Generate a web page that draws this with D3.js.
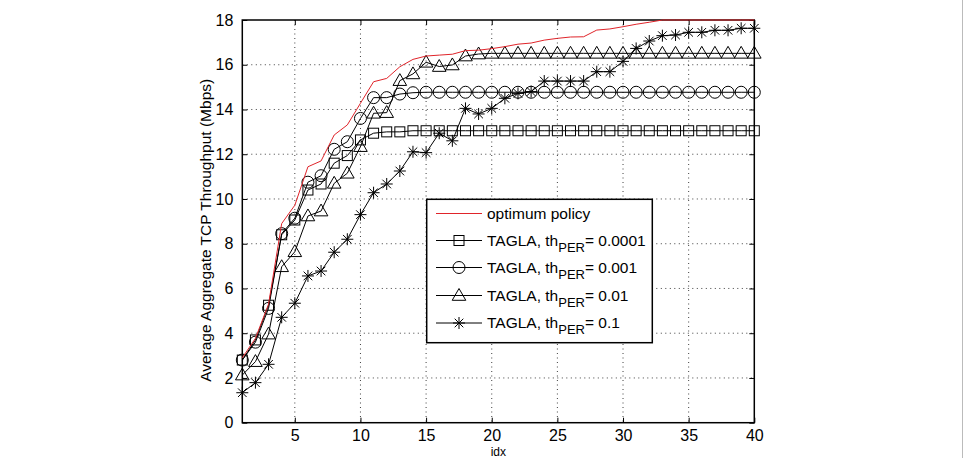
<!DOCTYPE html>
<html lang="en">
<head>
<meta charset="UTF-8">
<title>TAGLA throughput</title>
<script src="https://cdn.jsdelivr.net/npm/d3@7"></script>
<style type="text/css">
	body { margin: 0; background: #fff; }
	svg { font-family: "Liberation Sans", Arial, sans-serif; }
	.tick-label { font-size: 16px; fill: #000; }
	.label { font-size: 15.5px; fill: #000; }
	.grid line { stroke: #000; stroke-width: 1px; stroke-dasharray: 1,3.5; opacity: 0.75; }
	.series { fill: none; stroke-width: 1px; }
	.marker { fill: none; stroke: #000; stroke-width: 1px; }
	.legend text { font-size: 15.5px; fill: #000; }
</style>
</head>
<body>
<script type="text/javascript">

	var idx = [1,2,3,4,5,6,7,8,9,10,11,12,13,14,15,16,17,18,19,20,
		21,22,23,24,25,26,27,28,29,30,31,32,33,34,35,36,37,38,39,40];

	var optimum = [2.9,3.77,5.3,8.9,9.72,11.44,11.7,12.86,13.31,14.28,15.24,15.39,15.91,16.24,16.39,16.43,16.47,16.63,16.65,16.72,
		16.81,16.92,16.97,17.1,17.18,17.24,17.25,17.55,17.6,17.7,17.81,17.9,18,18,18,18,18,18,18,18];
	var per0001 = [2.8,3.7,5.25,8.4,9.06,10.4,10.67,11.6,11.94,12.64,12.94,13.0,13.0,13.05,13.05,13.05,13.05,13.05,13.05,13.05,
		13.05,13.05,13.05,13.05,13.05,13.05,13.05,13.05,13.05,13.05,13.05,13.05,13.05,13.05,13.05,13.05,13.05,13.05,13.05,13.05];
	var per001 = [2.8,3.6,5.11,8.45,9.14,10.75,11.04,12.22,12.56,13.6,14.53,14.53,14.69,14.75,14.77,14.77,14.77,14.77,14.77,14.77,
		14.77,14.77,14.77,14.77,14.77,14.77,14.77,14.77,14.77,14.77,14.77,14.77,14.77,14.77,14.77,14.77,14.77,14.77,14.77,14.77];
	var per01 = [2.13,2.73,3.96,6.97,7.64,9.24,9.46,10.7,11.15,12.34,13.83,13.86,15.29,15.59,16.11,15.92,15.99,16.39,16.48,16.51,
		16.51,16.51,16.51,16.51,16.51,16.51,16.51,16.51,16.51,16.51,16.51,16.51,16.51,16.51,16.51,16.51,16.51,16.51,16.51,16.51];
	var per1 = [1.34,1.79,2.61,4.71,5.34,6.56,6.78,7.62,8.2,9.3,10.28,10.67,11.25,12.11,12.07,12.94,12.6,14.05,13.8,14.05,
		14.5,14.72,14.8,15.27,15.27,15.27,15.27,15.69,15.69,16.15,16.73,17.06,17.3,17.33,17.45,17.45,17.54,17.54,17.63,17.63];

	var xTicks = [5,10,15,20,25,30,35,40];
	var yTicks = [0,2,4,6,8,10,12,14,16,18];

	var series = [
		{ name: 'optimum policy', values: optimum, marker: null, color: '#e0242a' },
		{ name: '0.0001', values: per0001, marker: 'square', color: '#000' },
		{ name: '0.001', values: per001, marker: 'circle', color: '#000' },
		{ name: '0.01', values: per01, marker: 'triangle', color: '#000' },
		{ name: '0.1', values: per1, marker: 'star', color: '#000' }
	];

	var W = 964, H = 458;
	var margin = {top: 20, right: 209.7, bottom: 35.3, left: 242.3};
	var width = W - margin.left - margin.right;
	var height = H - margin.top - margin.bottom;

	var root = d3.select('body').append('svg')
		.attr('width', W)
		.attr('height', H);

	// faint frame edge on the right of the figure
	root.append('line')
		.attr('x1', 962.5).attr('x2', 962.5)
		.attr('y1', 0).attr('y2', H)
		.attr('stroke', '#bbb').attr('stroke-width', 1);

	var svg = root.append('g')
		.attr('transform', 'translate(' + margin.left + ',' + margin.top + ')');

	var xScale = d3.scaleLinear().domain([1, 40]).range([0, width]);
	var yScale = d3.scaleLinear().domain([0, 18]).range([height, 0]);

	// dotted grid
	svg.append('g').attr('class', 'grid')
		.selectAll('line').data(xTicks.filter(d => d < 40)).enter().append('line')
		.attr('x1', d => xScale(d)).attr('x2', d => xScale(d))
		.attr('y1', 0).attr('y2', height);
	svg.append('g').attr('class', 'grid')
		.selectAll('line').data(yTicks.filter(d => d > 0 && d < 18)).enter().append('line')
		.attr('x1', 0).attr('x2', width)
		.attr('y1', d => yScale(d)).attr('y2', d => yScale(d));

	// axes with inward ticks on all sides
	var tl = 5;
	svg.append('g').attr('class', 'x axis')
		.attr('transform', 'translate(0,' + height + ')')
		.call(d3.axisBottom(xScale).tickValues(xTicks).tickSize(-tl).tickSizeOuter(0).tickPadding(7))
		.call(g => g.select('.domain').remove());
	svg.append('g')
		.call(d3.axisTop(xScale).tickValues(xTicks).tickSize(-tl).tickSizeOuter(0).tickFormat(''))
		.call(g => g.select('.domain').remove());
	svg.append('g').attr('class', 'y axis')
		.call(d3.axisLeft(yScale).tickValues(yTicks).tickSize(-tl).tickSizeOuter(0).tickPadding(9))
		.call(g => g.select('.domain').remove());
	svg.append('g')
		.attr('transform', 'translate(' + width + ',0)')
		.call(d3.axisRight(yScale).tickValues(yTicks).tickSize(-tl).tickSizeOuter(0).tickFormat(''))
		.call(g => g.select('.domain').remove());

	svg.selectAll('.tick line').attr('stroke', '#000');
	svg.selectAll('.tick text').attr('class', 'tick-label').attr('font-family', null).attr('font-size', null);

	svg.append('rect')
		.attr('width', width).attr('height', height)
		.attr('fill', 'none').attr('stroke', '#000').attr('stroke-width', 1.5);

	var line = d3.line()
		.x((d, i) => xScale(idx[i]))
		.y(d => yScale(d));

	function drawMarker(g, type, cx, cy) {
		if (type === 'square') {
			g.append('rect').attr('class', 'marker')
				.attr('x', cx - 5).attr('y', cy - 5).attr('width', 10).attr('height', 10);
		} else if (type === 'circle') {
			g.append('circle').attr('class', 'marker')
				.attr('cx', cx).attr('cy', cy).attr('r', 6);
		} else if (type === 'triangle') {
			g.append('path').attr('class', 'marker')
				.attr('d', 'M' + cx + ',' + (cy - 7) + 'L' + (cx + 6.8) + ',' + (cy + 4.8) + 'L' + (cx - 6.8) + ',' + (cy + 4.8) + 'Z');
		} else if (type === 'star') {
			var r = 6, d = 4.3;
			g.append('path').attr('class', 'marker')
				.attr('d', 'M' + cx + ',' + (cy - r) + 'V' + (cy + r) +
					'M' + (cx - r) + ',' + cy + 'H' + (cx + r) +
					'M' + (cx - d) + ',' + (cy - d) + 'L' + (cx + d) + ',' + (cy + d) +
					'M' + (cx - d) + ',' + (cy + d) + 'L' + (cx + d) + ',' + (cy - d));
		}
	}

	// draw marker series first, optimum on top
	series.slice(1).concat(series.slice(0, 1)).forEach(s => {
		var g = svg.append('g');
		g.append('path').attr('class', 'series')
			.attr('d', line(s.values))
			.style('stroke', s.color);
		if (s.marker) {
			s.values.forEach((v, i) => drawMarker(g, s.marker, xScale(idx[i]), yScale(v)));
		}
	});

	// axis labels
	root.append('text').attr('class', 'label')
		.attr('transform', 'translate(206,' + (margin.top + height / 2 + 9) + ') rotate(-90)')
		.attr('text-anchor', 'middle')
		.attr('dy', '0.35em')
		.text('Average Aggregate TCP Throughput (Mbps)');
	root.append('text').attr('class', 'label')
		.attr('x', margin.left + width / 2)
		.attr('y', 455.5)
		.attr('text-anchor', 'middle')
		.style('font-size', '12px')
		.text('idx');

	// legend
	var lx = 426.7, ly = 199.3;
	var legend = root.append('g').attr('class', 'legend');
	legend.append('rect')
		.attr('x', lx).attr('y', ly).attr('width', 225.6).attr('height', 143.4)
		.attr('fill', '#fff').attr('stroke', '#000').attr('stroke-width', 1.5);
	var rowY = [213.5, 240.5, 267.5, 295.5, 323];
	series.forEach((s, i) => {
		var y = rowY[i];
		legend.append('line')
			.attr('x1', 436).attr('x2', 482)
			.attr('y1', y).attr('y2', y)
			.style('stroke', s.color).attr('stroke-width', 1);
		if (s.marker) drawMarker(legend, s.marker, 459, y);
		var t = legend.append('text').attr('x', 487).attr('y', y + 5);
		if (!s.marker) {
			t.text(s.name);
		} else {
			t.append('tspan').text('TAGLA, th');
			t.append('tspan').attr('dy', 6).style('font-size', '13px').text('PER');
			t.append('tspan').attr('dy', -6).text('= ' + s.name);
		}
	});

</script>
</body>
</html>
